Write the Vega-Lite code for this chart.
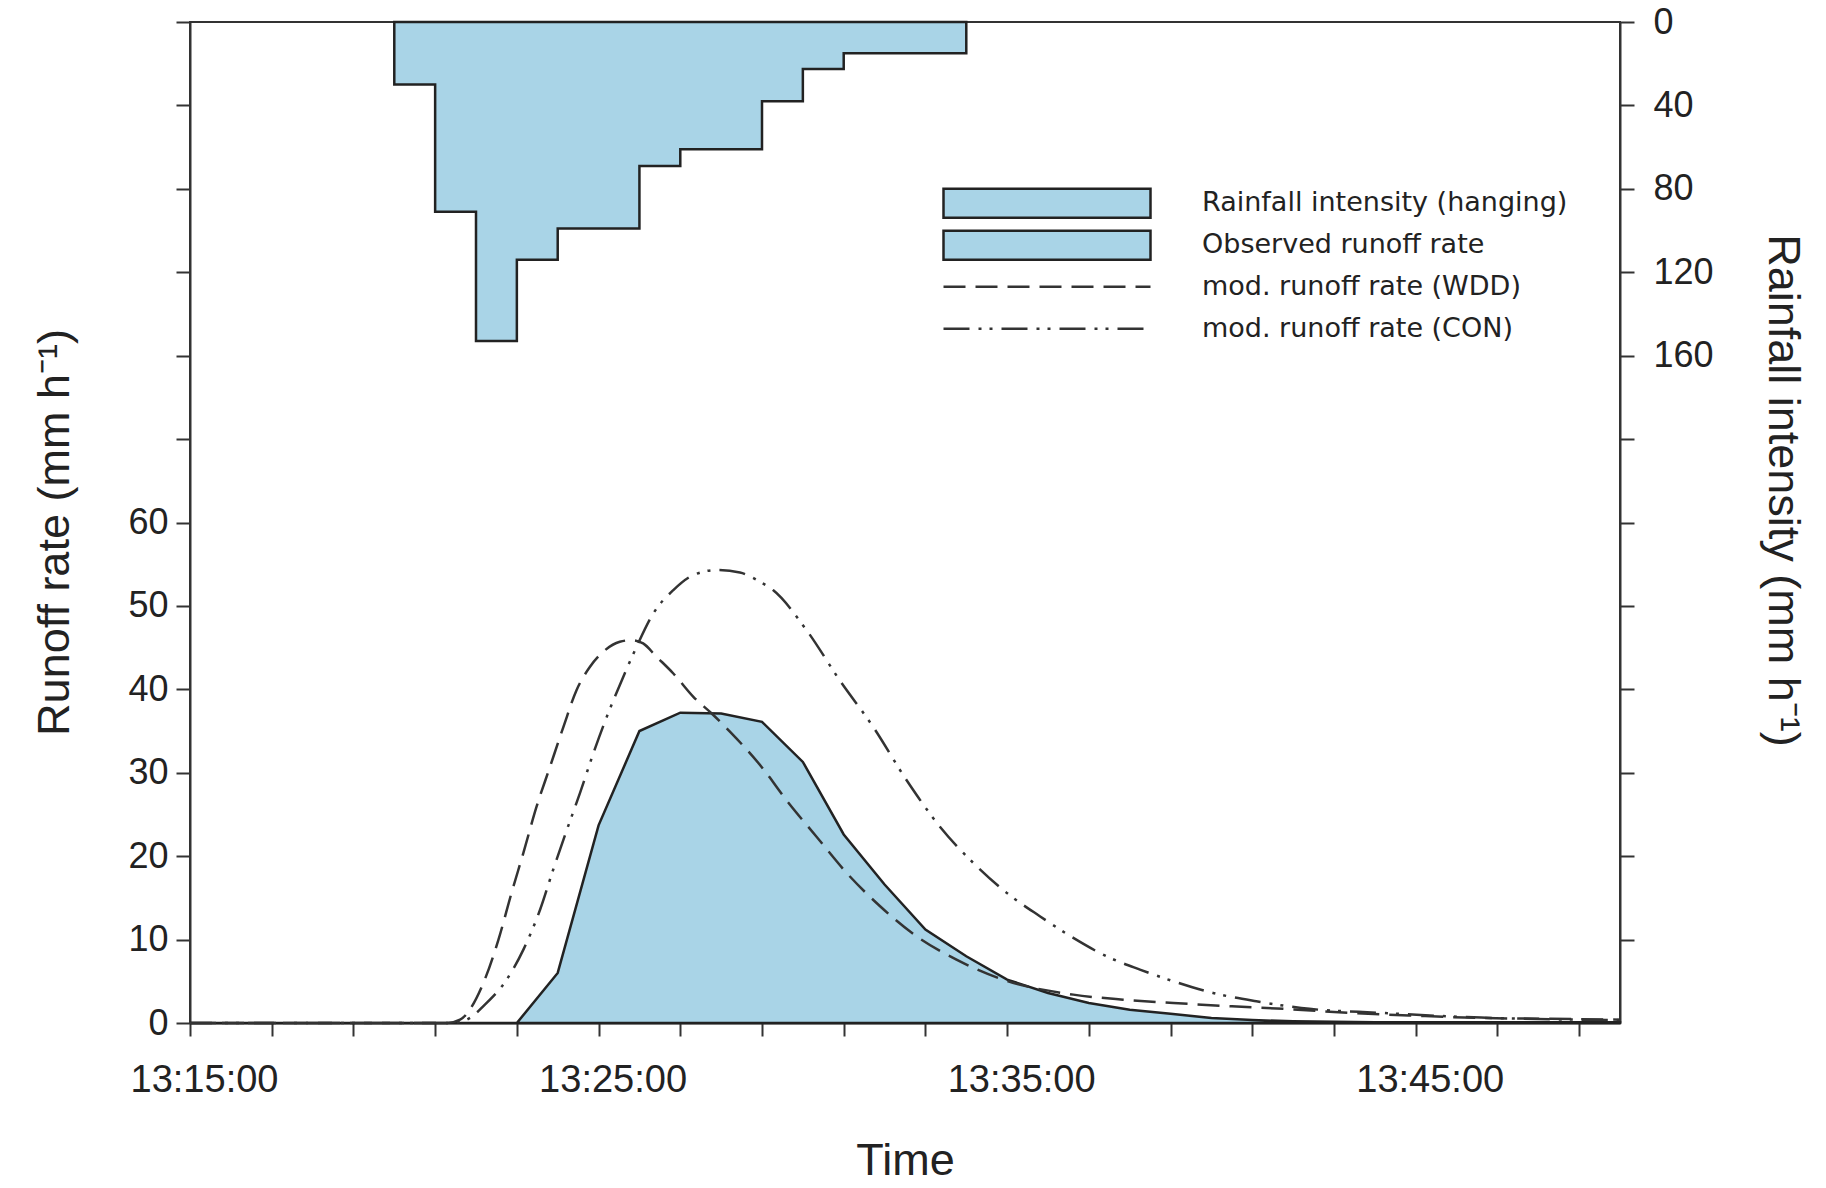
{
  "$schema": "https://vega.github.io/schema/vega-lite/v6.json",
  "width": 1430,
  "height": 1001,
  "autosize": {"type": "none"},
  "padding": {"left": 190, "top": 22, "right": 206, "bottom": 165},
  "background": "white",
  "config": {
    "view": {"stroke": "#333", "strokeWidth": 2},
    "axis": {
      "grid": false,
      "domainColor": "#333",
      "domainWidth": 2,
      "tickColor": "#333",
      "tickWidth": 2,
      "tickSize": 13,
      "labelFont": "Liberation Sans",
      "labelFontSize": 36,
      "labelColor": "#222",
      "titleFont": "Liberation Sans",
      "titleFontSize": 45,
      "titleFontWeight": "normal",
      "titleColor": "#222"
    },
    "legend": {
      "labelFont": "DejaVu Sans",
      "labelFontSize": 27,
      "labelColor": "#222",
      "labelLimit": 600,
      "padding": 0,
      "rowPadding": 1,
      "clipHeight": 40.5
    }
  },
  "datasets": {
    "rain": [
      {"t": 20, "intensity": 30, "series": "Rainfall intensity (hanging)"},
      {"t": 21, "intensity": 91, "series": "Rainfall intensity (hanging)"},
      {"t": 22, "intensity": 153, "series": "Rainfall intensity (hanging)"},
      {"t": 23, "intensity": 114, "series": "Rainfall intensity (hanging)"},
      {"t": 24, "intensity": 99, "series": "Rainfall intensity (hanging)"},
      {"t": 25, "intensity": 99, "series": "Rainfall intensity (hanging)"},
      {"t": 26, "intensity": 69, "series": "Rainfall intensity (hanging)"},
      {"t": 27, "intensity": 61, "series": "Rainfall intensity (hanging)"},
      {"t": 28, "intensity": 61, "series": "Rainfall intensity (hanging)"},
      {"t": 29, "intensity": 38, "series": "Rainfall intensity (hanging)"},
      {"t": 30, "intensity": 22.5, "series": "Rainfall intensity (hanging)"},
      {"t": 31, "intensity": 15, "series": "Rainfall intensity (hanging)"},
      {"t": 32, "intensity": 15, "series": "Rainfall intensity (hanging)"},
      {"t": 33, "intensity": 15, "series": "Rainfall intensity (hanging)"},
      {"t": 34, "intensity": 0, "series": "Rainfall intensity (hanging)"}
    ],
    "observed": [
      {"t": 15, "rate": 0, "series": "Observed runoff rate"},
      {"t": 23, "rate": 0, "series": "Observed runoff rate"},
      {"t": 24, "rate": 6.0, "series": "Observed runoff rate"},
      {"t": 25, "rate": 23.7, "series": "Observed runoff rate"},
      {"t": 26, "rate": 35.0, "series": "Observed runoff rate"},
      {"t": 27, "rate": 37.2, "series": "Observed runoff rate"},
      {"t": 28, "rate": 37.1, "series": "Observed runoff rate"},
      {"t": 29, "rate": 36.1, "series": "Observed runoff rate"},
      {"t": 30, "rate": 31.3, "series": "Observed runoff rate"},
      {"t": 31, "rate": 22.6, "series": "Observed runoff rate"},
      {"t": 32, "rate": 16.6, "series": "Observed runoff rate"},
      {"t": 33, "rate": 11.2, "series": "Observed runoff rate"},
      {"t": 34, "rate": 8.0, "series": "Observed runoff rate"},
      {"t": 35, "rate": 5.2, "series": "Observed runoff rate"},
      {"t": 36, "rate": 3.6, "series": "Observed runoff rate"},
      {"t": 37, "rate": 2.4, "series": "Observed runoff rate"},
      {"t": 38, "rate": 1.6, "series": "Observed runoff rate"},
      {"t": 39, "rate": 1.1, "series": "Observed runoff rate"},
      {"t": 40, "rate": 0.6, "series": "Observed runoff rate"},
      {"t": 41, "rate": 0.35, "series": "Observed runoff rate"},
      {"t": 42, "rate": 0.2, "series": "Observed runoff rate"},
      {"t": 43, "rate": 0.15, "series": "Observed runoff rate"},
      {"t": 44, "rate": 0.1, "series": "Observed runoff rate"},
      {"t": 46, "rate": 0.1, "series": "Observed runoff rate"},
      {"t": 48, "rate": 0.1, "series": "Observed runoff rate"},
      {"t": 50, "rate": 0.1, "series": "Observed runoff rate"}
    ],
    "model": [
      {"t": 15, "rate": 0, "series": "mod. runoff rate (WDD)"},
      {"t": 21.3, "rate": 0, "series": "mod. runoff rate (WDD)"},
      {"t": 21.61, "rate": 0.4, "series": "mod. runoff rate (WDD)"},
      {"t": 22.18, "rate": 4.8, "series": "mod. runoff rate (WDD)"},
      {"t": 22.55, "rate": 10.0, "series": "mod. runoff rate (WDD)"},
      {"t": 22.87, "rate": 15.6, "series": "mod. runoff rate (WDD)"},
      {"t": 23.16, "rate": 20.4, "series": "mod. runoff rate (WDD)"},
      {"t": 23.48, "rate": 25.9, "series": "mod. runoff rate (WDD)"},
      {"t": 23.81, "rate": 30.7, "series": "mod. runoff rate (WDD)"},
      {"t": 24.14, "rate": 35.5, "series": "mod. runoff rate (WDD)"},
      {"t": 24.46, "rate": 39.9, "series": "mod. runoff rate (WDD)"},
      {"t": 24.79, "rate": 42.7, "series": "mod. runoff rate (WDD)"},
      {"t": 25.16, "rate": 44.7, "series": "mod. runoff rate (WDD)"},
      {"t": 25.52, "rate": 45.7, "series": "mod. runoff rate (WDD)"},
      {"t": 25.81, "rate": 45.9, "series": "mod. runoff rate (WDD)"},
      {"t": 26.09, "rate": 45.5, "series": "mod. runoff rate (WDD)"},
      {"t": 26.42, "rate": 43.9, "series": "mod. runoff rate (WDD)"},
      {"t": 26.83, "rate": 41.9, "series": "mod. runoff rate (WDD)"},
      {"t": 27.32, "rate": 39.1, "series": "mod. runoff rate (WDD)"},
      {"t": 27.77, "rate": 37.1, "series": "mod. runoff rate (WDD)"},
      {"t": 28.22, "rate": 34.9, "series": "mod. runoff rate (WDD)"},
      {"t": 28.99, "rate": 30.7, "series": "mod. runoff rate (WDD)"},
      {"t": 29.6, "rate": 26.7, "series": "mod. runoff rate (WDD)"},
      {"t": 30.34, "rate": 22.3, "series": "mod. runoff rate (WDD)"},
      {"t": 31.07, "rate": 18.0, "series": "mod. runoff rate (WDD)"},
      {"t": 31.89, "rate": 14.0, "series": "mod. runoff rate (WDD)"},
      {"t": 32.78, "rate": 10.4, "series": "mod. runoff rate (WDD)"},
      {"t": 33.76, "rate": 7.6, "series": "mod. runoff rate (WDD)"},
      {"t": 34.9, "rate": 5.2, "series": "mod. runoff rate (WDD)"},
      {"t": 36.62, "rate": 3.4, "series": "mod. runoff rate (WDD)"},
      {"t": 37.84, "rate": 2.8, "series": "mod. runoff rate (WDD)"},
      {"t": 39.07, "rate": 2.4, "series": "mod. runoff rate (WDD)"},
      {"t": 40.5, "rate": 2.0, "series": "mod. runoff rate (WDD)"},
      {"t": 41.76, "rate": 1.7, "series": "mod. runoff rate (WDD)"},
      {"t": 43.4, "rate": 1.2, "series": "mod. runoff rate (WDD)"},
      {"t": 45.0, "rate": 0.87, "series": "mod. runoff rate (WDD)"},
      {"t": 46.6, "rate": 0.6, "series": "mod. runoff rate (WDD)"},
      {"t": 48.3, "rate": 0.5, "series": "mod. runoff rate (WDD)"},
      {"t": 50, "rate": 0.4, "series": "mod. runoff rate (WDD)"},
      {"t": 15, "rate": 0, "series": "mod. runoff rate (CON)"},
      {"t": 21.4, "rate": 0, "series": "mod. runoff rate (CON)"},
      {"t": 21.77, "rate": 0.4, "series": "mod. runoff rate (CON)"},
      {"t": 22.26, "rate": 2.4, "series": "mod. runoff rate (CON)"},
      {"t": 22.75, "rate": 5.2, "series": "mod. runoff rate (CON)"},
      {"t": 23.16, "rate": 8.8, "series": "mod. runoff rate (CON)"},
      {"t": 23.57, "rate": 13.6, "series": "mod. runoff rate (CON)"},
      {"t": 23.89, "rate": 18.4, "series": "mod. runoff rate (CON)"},
      {"t": 24.22, "rate": 23.1, "series": "mod. runoff rate (CON)"},
      {"t": 24.54, "rate": 27.5, "series": "mod. runoff rate (CON)"},
      {"t": 24.87, "rate": 32.3, "series": "mod. runoff rate (CON)"},
      {"t": 25.2, "rate": 36.7, "series": "mod. runoff rate (CON)"},
      {"t": 25.57, "rate": 41.1, "series": "mod. runoff rate (CON)"},
      {"t": 25.93, "rate": 45.1, "series": "mod. runoff rate (CON)"},
      {"t": 26.34, "rate": 49.1, "series": "mod. runoff rate (CON)"},
      {"t": 26.83, "rate": 51.9, "series": "mod. runoff rate (CON)"},
      {"t": 27.32, "rate": 53.7, "series": "mod. runoff rate (CON)"},
      {"t": 27.89, "rate": 54.3, "series": "mod. runoff rate (CON)"},
      {"t": 28.46, "rate": 54.0, "series": "mod. runoff rate (CON)"},
      {"t": 28.95, "rate": 52.9, "series": "mod. runoff rate (CON)"},
      {"t": 29.27, "rate": 51.9, "series": "mod. runoff rate (CON)"},
      {"t": 30.09, "rate": 47.1, "series": "mod. runoff rate (CON)"},
      {"t": 30.9, "rate": 41.1, "series": "mod. runoff rate (CON)"},
      {"t": 31.72, "rate": 35.5, "series": "mod. runoff rate (CON)"},
      {"t": 32.54, "rate": 29.1, "series": "mod. runoff rate (CON)"},
      {"t": 33.36, "rate": 23.5, "series": "mod. runoff rate (CON)"},
      {"t": 34.17, "rate": 19.2, "series": "mod. runoff rate (CON)"},
      {"t": 34.99, "rate": 15.6, "series": "mod. runoff rate (CON)"},
      {"t": 35.8, "rate": 12.8, "series": "mod. runoff rate (CON)"},
      {"t": 36.62, "rate": 10.2, "series": "mod. runoff rate (CON)"},
      {"t": 37.43, "rate": 8.0, "series": "mod. runoff rate (CON)"},
      {"t": 38.25, "rate": 6.4, "series": "mod. runoff rate (CON)"},
      {"t": 39.07, "rate": 5.0, "series": "mod. runoff rate (CON)"},
      {"t": 40.04, "rate": 3.6, "series": "mod. runoff rate (CON)"},
      {"t": 41.1, "rate": 2.6, "series": "mod. runoff rate (CON)"},
      {"t": 42.2, "rate": 1.8, "series": "mod. runoff rate (CON)"},
      {"t": 44.2, "rate": 1.2, "series": "mod. runoff rate (CON)"},
      {"t": 46.6, "rate": 0.65, "series": "mod. runoff rate (CON)"},
      {"t": 48.3, "rate": 0.45, "series": "mod. runoff rate (CON)"},
      {"t": 50, "rate": 0.35, "series": "mod. runoff rate (CON)"}
    ]
  },
  "layer": [
    {
      "data": {"name": "rain"},
      "mark": {"type": "area", "interpolate": "step-after", "stroke": "#222", "strokeWidth": 2.5},
      "encoding": {
        "x": {
          "field": "t",
          "type": "quantitative",
          "scale": {"domain": [15, 50], "nice": false, "zero": false},
          "axis": {
            "values": [15, 17, 19, 21, 23, 25, 27, 29, 31, 33, 35, 37, 39, 41, 43, 45, 47, 49],
            "labelExpr": "(datum.value - 15) % 10 == 0 ? '13:' + datum.value + ':00' : ''",
            "labelFontSize": 38,
            "labelPadding": 25,
            "labelOffset": 14,
            "labelFlush": false,
            "labelOverlap": false,
            "tickSize": 13,
            "title": "Time",
            "titlePadding": 39
          }
        },
        "y": {
          "field": "intensity",
          "type": "quantitative",
          "scale": {"domain": [0, 480], "reverse": true, "nice": false},
          "axis": {
            "orient": "right",
            "values": [0, 40, 80, 120, 160, 200, 240, 280, 320, 360, 400, 440],
            "labelExpr": "datum.value <= 160 ? datum.label : ''",
            "labelOverlap": false,
            "tickSize": 14,
            "labelPadding": 19,
            "title": "Rainfall intensity (mm h⁻¹)",
            "titlePadding": 46,
            "titleY": 468
          }
        },
        "fill": {
          "field": "series",
          "type": "nominal",
          "scale": {
            "domain": ["Rainfall intensity (hanging)", "Observed runoff rate"],
            "range": ["#a9d4e7", "#a9d4e7"]
          },
          "legend": {
            "orient": "none",
            "legendX": 752,
            "legendY": 161,
            "title": null,
            "symbolType": "M-1,-0.14H1V0.14H-1Z",
            "symbolSize": 42849,
            "symbolStrokeColor": "#222",
            "symbolStrokeWidth": 2.5,
            "symbolOpacity": 1,
            "labelOffset": 50
          }
        }
      }
    },
    {
      "layer": [
        {
          "data": {"name": "observed"},
          "mark": {"type": "area", "interpolate": "linear", "stroke": "#222", "strokeWidth": 2.5},
          "encoding": {
            "x": {"field": "t", "type": "quantitative"},
            "y": {
              "field": "rate",
              "type": "quantitative",
              "scale": {"domain": [0, 120], "nice": false},
              "axis": {
                "orient": "left",
                "values": [0, 10, 20, 30, 40, 50, 60, 70, 80, 90, 100, 110, 120],
                "labelExpr": "datum.value <= 60 ? datum.label : ''",
                "labelOverlap": false,
                "tickSize": 14,
                "labelPadding": 8,
                "title": "Runoff rate (mm h⁻¹)",
                "titlePadding": 50,
                "titleY": 510
              }
            },
            "fill": {"field": "series", "type": "nominal"}
          }
        },
        {
          "data": {"name": "model"},
          "mark": {"type": "line", "interpolate": "monotone", "stroke": "#333", "strokeWidth": 2.5},
          "encoding": {
            "x": {"field": "t", "type": "quantitative"},
            "y": {"field": "rate", "type": "quantitative"},
            "strokeDash": {
              "field": "series",
              "type": "nominal",
              "scale": {
                "domain": ["mod. runoff rate (WDD)", "mod. runoff rate (CON)"],
                "range": [[22, 10], [26, 9, 3, 8, 3, 9]]
              },
              "legend": {
                "orient": "none",
                "legendX": 752,
                "legendY": 244.5,
                "title": null,
                "symbolType": "stroke",
                "symbolSize": 42849,
                "symbolStrokeColor": "#333",
                "symbolStrokeWidth": 2.5,
                "labelOffset": 50
              }
            }
          }
        }
      ]
    }
  ],
  "resolve": {"scale": {"y": "independent"}}
}
